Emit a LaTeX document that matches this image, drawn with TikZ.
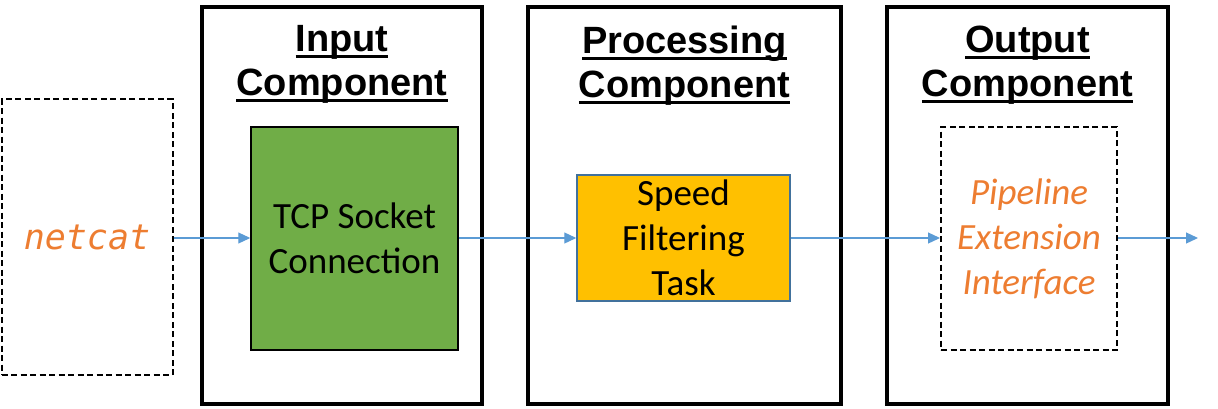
\documentclass[tikz,border=0pt]{standalone}
\usepackage{fontspec}
\setmainfont{Carlito}
\newfontfamily\headfont{Liberation Sans}
\newfontfamily\codefont{DejaVu Sans Mono}
\usepackage{tikz}
\usetikzlibrary{arrows.meta}
\definecolor{taskgreen}{HTML}{70AD47}
\definecolor{taskyellow}{HTML}{FFC000}
\definecolor{taskedge}{HTML}{41719C}
\definecolor{extorange}{HTML}{ED7D31}
\definecolor{flowblue}{HTML}{5B9BD5}
\newcommand{\ultitle}[1]{\setbox0\hbox{#1}\rlap{\rule[-6.5pt]{\wd0}{3pt}}\box0}
\tikzstyle{compbox} = [draw=black, line width=4pt, rectangle, inner sep=0pt]
\tikzstyle{comptitle} = [font=\headfont\bfseries\fontsize{38}{44}\selectfont,
    align=center, anchor=north, inner sep=0pt]
\tikzstyle{taskbox} = [rectangle, line width=1.5pt, inner sep=0pt, align=center,
    font=\fontsize{37}{45}\selectfont]
\tikzstyle{extbox} = [draw=black, line width=2pt, dash pattern=on 6pt off 3.5pt,
    rectangle, inner sep=0pt, align=center, text=extorange]
\tikzstyle{flow} = [draw=flowblue, line width=1.2pt, -{Triangle[length=12pt,width=11pt]}]

\begin{document}
\begin{tikzpicture}[x=1pt, y=-1pt]
                \useasboundingbox (0,0) rectangle (1218,408);
                % components
                \node [compbox, minimum width=280pt, minimum height=397pt] (input) at (342,205.5) {};
                \node [compbox, minimum width=313pt, minimum height=397pt] (processing) at (684.5,205.5) {};
                \node [compbox, minimum width=281pt, minimum height=397pt] (output) at (1027.5,205.5) {};
                \node [comptitle] (inputtitle) at (342,25.5) {\ultitle{Input}\\\ultitle{Component}};
                \node [comptitle] (processingtitle) at (684.5,25.5) {\ultitle{Processing}\\\ultitle{Component}};
                \node [comptitle] (outputtitle) at (1027.5,25.5) {\ultitle{Output}\\\ultitle{Component}};
                % inner boxes
                \node [extbox, minimum width=171pt, minimum height=276pt,
                    font=\codefont\itshape\fontsize{35}{42}\selectfont] (netcat) at (87,237) {netcat};
                \node [taskbox, draw=black, fill=taskgreen, minimum width=207pt, minimum height=223pt]
                    (socket) at (354.5,238.5) {TCP Socket\\Connection};
                \node [taskbox, draw=taskedge, fill=taskyellow, minimum width=213pt, minimum height=126pt]
                    (filter) at (683.5,238) {Speed\\Filtering\\Task};
                \node [extbox, minimum width=176pt, minimum height=223pt,
                    font=\itshape\fontsize{37}{45}\selectfont] (extension) at (1029,238.5) {Pipeline\\Extension\\Interface};
                \coordinate (sink) at (1198,238);
                % data flow
                \draw [flow] (netcat.east |- 0,238) -- (socket.west |- 0,238);
                \draw [flow] (socket.east |- 0,238) -- (filter.west |- 0,238);
                \draw [flow] (filter.east |- 0,238) -- (extension.west |- 0,238);
                \draw [flow] (extension.east |- 0,238) -- (sink);
            \end{tikzpicture}
\end{document}
